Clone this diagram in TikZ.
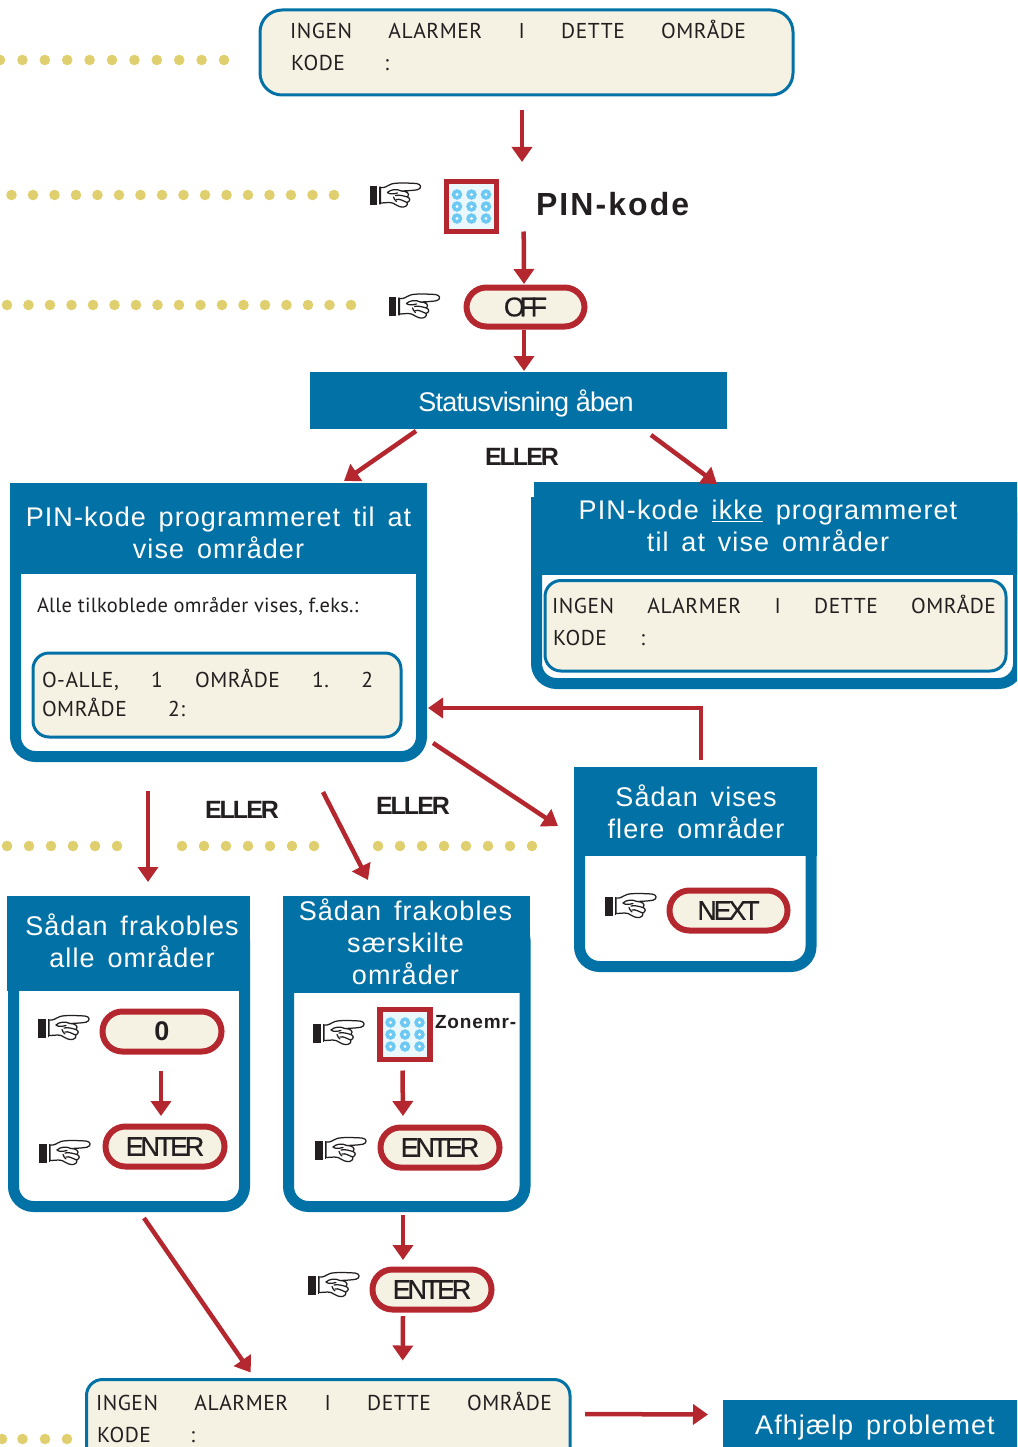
\documentclass[tikz,border=0pt]{standalone}
\usepackage{fontspec}
\usetikzlibrary{arrows.meta,calc}
\setmainfont{Liberation Sans}
\newfontfamily\lcdf[LetterSpace=2.5]{PT Sans}
\newfontfamily\notef[LetterSpace=1.2]{PT Sans}
\newfontfamily\hdrf[LetterSpace=4,WordSpace=1.5]{Liberation Sans}
\newfontfamily\statf[LetterSpace=-3]{Liberation Sans}
\newfontfamily\tightf[LetterSpace=-12,FakeBold=0.5]{Liberation Sans}
\newfontfamily\offf[LetterSpace=-20,FakeBold=0.5]{Liberation Sans}
\newfontfamily\eller[LetterSpace=-8]{Liberation Sans}
\newfontfamily\pinf[LetterSpace=6.5]{Liberation Sans}
\newfontfamily\zonf[LetterSpace=4.5]{Liberation Sans}
\definecolor{bluebox}{HTML}{0271A6}
\definecolor{cream}{HTML}{F5F2E3}
\definecolor{redc}{HTML}{B5272E}
\definecolor{goldc}{HTML}{E0CF6E}
\definecolor{keyc}{HTML}{6CC9F4}
\definecolor{keybg}{HTML}{EAF7FD}
\definecolor{inkc}{HTML}{231F20}
\newcommand{\bxn}[7]{\node[#1,minimum width={(#5-#3)*1pt},minimum height={(#6-#4)*1pt}] (#2) at ({(#3+#5)/2},{(#4+#6)/2}) {#7};}
\newcommand{\lcdl}[5]{\node[lcdtext] (#1) at (#2,{#3+7.5}) {\makebox[#4pt][s]{#5}};}
\newcommand{\hnd}[2]{\begin{scope}[shift={(#1,#2)},line width=1.25pt,line join=round,line cap=round,draw=inkc]
 \fill[inkc] (0,3.5) rectangle (7.5,22.5);
 \draw[line width=1.1pt] (10.5,4.5) -- (10.5,21.5);
 \draw[fill=white] (11,5) .. controls (15,6) and (18,3) .. (22,1.5)
   .. controls (27,0) and (38,0.5) .. (47,1) .. controls (52,1.5) and (52.5,6) .. (48,7.2)
   .. controls (44,8) and (37,8.3) .. (32,8.5)
   .. controls (37,8.5) and (41,11) .. (38,14.5)
   .. controls (41,15.5) and (41,19) .. (37.5,20)
   .. controls (39,22.5) and (36,25) .. (32,24.5)
   .. controls (28,24) and (26,21.5) .. (23,20.5)
   .. controls (19,19.5) and (15,20.5) .. (11,20.5) -- cycle;
 \draw (18,10) .. controls (21,7) and (27,6) .. (32,8.5);
 \draw (18,10) .. controls (20,12) and (24,11.5) .. (28,10.5);
 \draw (26,13) .. controls (30,12) and (34,13.5) .. (38,14.5);
 \draw (27,17) .. controls (30,16) and (34,18.5) .. (37.5,20);
 \draw (24,14.5) .. controls (25,16) and (25,18) .. (27,19);
\end{scope}}
\newcommand{\keyp}[3]{\bxn{keybox}{#1}{(#2-25)}{(#3-25)}{(#2+25)}{(#3+25)}{}
 \foreach \i in {-1,0,1}{\foreach \j in {-1,0,1}{
  \fill[keyc] ({#2+\i*14.5},{#3+\j*12}) circle[radius=5.3];
  \fill[white] ({#2+\i*14.5},{#3+\j*12}) circle[radius=1.7];}}}
\tikzset{
 every node/.style={inner sep=0pt,outer sep=0pt,text=inkc},
 lcdbox/.style={draw=bluebox,fill=cream,line width=3pt,rounded corners=16pt},
 lcdtext/.style={anchor=base west,font=\lcdf\fontsize{21.5}{24}\selectfont},
 panelbox/.style={draw=bluebox,fill=white,line width=11pt,rounded corners=20pt},
 hdrbox/.style={fill=bluebox},
 hdrtext/.style={text=white,align=center,font=\hdrf\fontsize{27}{32}\selectfont},
 pill/.style={draw=redc,fill=cream,line width=6pt,rounded corners=19.9pt,font=\tightf\fontsize{27}{30}\selectfont},
 keybox/.style={draw=redc,fill=keybg,line width=5.5pt},
 conn/.style={draw=redc,line width=4.5pt,-{Triangle[length=15pt,width=20pt]}},
 elabel/.style={font=\eller\bfseries\fontsize{25}{30}\selectfont},
 dotm/.style={fill=goldc},
}
\begin{document}
\begin{tikzpicture}[x=1pt,y=-1pt]
\useasboundingbox (0,0) rectangle (1017,1447);
\clip (0,0) rectangle (1017,1447);
% dotted rows
\foreach \x in {0,22.4,...,225}{\fill[dotm] (\x,60) circle[radius=5.3];}
\foreach \x in {11.5,33,...,340}{\fill[dotm] (\x,195) circle[radius=5.3];}
\foreach \x in {7,28.5,...,353}{\fill[dotm] (\x,305) circle[radius=5.3];}
\foreach \x in {7,29,...,118}{\fill[dotm] (\x,846) circle[radius=5.3];}
\foreach \x in {182,204,...,315}{\fill[dotm] (\x,846) circle[radius=5.3];}
\foreach \x in {378,400,...,533}{\fill[dotm] (\x,846) circle[radius=5.3];}
\foreach \x in {2,22.5,45,67}{\fill[dotm] (\x,1439) circle[radius=5.3];}
% top lcd
\bxn{lcdbox,rounded corners=22pt}{lcda}{260}{10}{793}{95}{}
\lcdl{lcda1}{290}{31}{456}{INGEN\hfill ALARMER\hfill I\hfill DETTE\hfill OMRÅDE}
\lcdl{lcda2}{291}{63}{98}{KODE\hfill :}
% pin row
\hnd{369.5}{182.5}
\keyp{kpa}{471.5}{206.5}
\node[anchor=west,font=\pinf\bfseries\fontsize{32}{36}\selectfont] (pinl) at (536,204) {PIN-kode};
\hnd{388.5}{293.5}
\bxn{pill,font=\offf\fontsize{27}{30}\selectfont}{off}{466.5}{287.5}{584.5}{326.5}{OFF}
% status
\bxn{hdrbox}{stat}{310}{372}{727}{429}{}
\node[text=white,font=\statf\fontsize{27}{30}\selectfont] (statt) at (526,403) {Statusvisning åben};
\node[elabel] (el1) at (522,457) {ELLER};
% panel 1
\bxn{panelbox}{pa}{15.5}{500}{421.5}{756.5}{}
\bxn{hdrbox}{pah}{10}{483}{427}{574}{}
\node[hdrtext] (pat) at (218.5,533) {PIN-kode programmeret til at\\vise områder};
\node[anchor=west,font=\notef\fontsize{20.5}{24}\selectfont] (pan) at (37,606) {Alle tilkoblede områder vises, f.eks.:};
\bxn{lcdbox}{lcdc}{33}{653}{401}{737}{}
\lcdl{lcdc1}{42}{680}{331}{O-ALLE,\hfill 1\hfill OMRÅDE\hfill 1.\hfill 2}
\lcdl{lcdc2}{42}{709}{143}{OMRÅDE\hfill 2:}
% panel 2
\bxn{panelbox}{pb}{536.5}{510}{1018.5}{683.5}{}
\bxn{hdrbox}{pbh}{534}{482}{1040}{530}{}
\bxn{hdrbox}{pbi}{531}{497}{1040}{575}{}
\node[hdrtext] (pbt) at (768,526) {PIN-kode \underline{ikke} programmeret\\til at vise områder};
\bxn{lcdbox}{lcdb}{545}{580.5}{1006}{671}{}
\lcdl{lcdb1}{552}{606}{444}{INGEN\hfill ALARMER\hfill I\hfill DETTE\hfill OMRÅDE}
\lcdl{lcdb2}{553}{638}{92}{KODE\hfill :}
% panel 3
\bxn{panelbox}{pc}{579.5}{790}{811}{966.5}{}
\bxn{hdrbox}{pch}{574}{767}{817}{856}{}
\node[hdrtext] (pct) at (696,812) {Sådan vises\\flere områder};
\hnd{605}{893}
\bxn{pill}{nxt}{669.5}{890.5}{787.5}{930.5}{NEXT}
% panel 4
\bxn{panelbox}{pd}{13.5}{920}{244.5}{1206.5}{}
\bxn{hdrbox}{pdh}{7}{896}{250}{991}{}
\node[hdrtext] (pdt) at (132,941) {Sådan frakobles\\alle områder};
\hnd{38}{1015}
\bxn{pill,font=\bfseries\fontsize{27}{30}\selectfont}{zero}{102.5}{1011.5}{221.5}{1051.5}{0}
\hnd{39}{1140}
\bxn{pill}{ena}{105.5}{1126.5}{224.5}{1166.5}{ENTER}
% panel 5
\bxn{panelbox}{pe}{288.5}{920}{525}{1206.5}{}
\bxn{hdrbox}{peh}{283}{896}{530}{993}{}
\node[hdrtext] (pet) at (405.5,942) {Sådan frakobles\\særskilte\\områder};
\hnd{313}{1020}
\keyp{kpb}{405}{1034.5}
\node[anchor=west,font=\zonf\bfseries\fontsize{19}{24}\selectfont] (zon) at (435,1022) {Zonemr-};
\hnd{315}{1137}
\bxn{pill}{enb}{380.5}{1127.5}{499.5}{1167.5}{ENTER}
\hnd{308}{1272}
\bxn{pill}{enc}{372.5}{1269.5}{491.5}{1309.5}{ENTER}
% bottom
\bxn{lcdbox}{lcdd}{86.5}{1379.5}{570}{1470}{}
\lcdl{lcdd1}{96}{1403}{456}{INGEN\hfill ALARMER\hfill I\hfill DETTE\hfill OMRÅDE}
\lcdl{lcdd2}{97}{1435}{98}{KODE\hfill :}
\bxn{hdrbox}{afh}{723}{1400}{1040}{1470}{}
\node[hdrtext] (aft) at (875,1428) {Afhjælp problemet};
\node[elabel] (el2) at (242,810) {ELLER};
\node[elabel] (el3) at (413,806) {ELLER};
% connectors
\draw[conn] ([xshift=-4.5pt,yshift=-15pt]lcda.south) -- ([xshift=50.5pt,yshift=19.5pt]kpa.north);
\draw[conn] ([xshift=52.2pt,yshift=0pt]kpa.south) -- ([xshift=-1.5pt,yshift=3.5pt]off.north);
\draw[conn] ([xshift=-1.5pt,yshift=-3.5pt]off.south) -- ([xshift=5.5pt,yshift=1pt]stat.north);
\draw[conn] ([xshift=-102.5pt,yshift=-2pt]stat.south) -- ([xshift=125.5pt,yshift=2pt]pah.north);
\draw[conn] ([xshift=132.5pt,yshift=-6pt]stat.south) -- ([xshift=-70pt,yshift=-2pt]pbh.north);
\draw[conn] ([xshift=-70.5pt,yshift=-34.5pt]pa.south) -- ([xshift=19.5pt,yshift=14pt]pdh.north);
\draw[conn] ([xshift=104.5pt,yshift=-35.5pt]pa.south) -- ([xshift=-38.5pt,yshift=16pt]peh.north);
\draw[conn] ([xshift=11.5pt,yshift=13.5pt]pa.south east) -- ([xshift=-16pt,yshift=-14.5pt]pch.west);
\draw[conn] ([xshift=5.5pt,yshift=7pt]pch.north) |- ([xshift=6.5pt,yshift=48.5pt]pa.south east);
\draw[conn] ([xshift=-1pt,yshift=-19.5pt]zero.south) -- ([xshift=-4pt,yshift=10.5pt]ena.north);
\draw[conn] ([xshift=-2.5pt,yshift=-11pt]kpb.south) -- ([xshift=-37pt,yshift=11.5pt]enb.north);
\draw[conn] ([xshift=-3.75pt,yshift=-8.5pt]pe.south) -- ([xshift=-29pt,yshift=9.5pt]enc.north);
\draw[conn] ([xshift=-29pt,yshift=-6.5pt]enc.south) -- ([xshift=74.5pt,yshift=19pt]lcdd.north);
\draw[conn] ([xshift=15pt,yshift=-11.5pt]pd.south) -- ([xshift=-77.5pt,yshift=7pt]lcdd.north);
\draw[conn] ([xshift=15pt,yshift=10.75pt]lcdd.east) -- ([xshift=-15pt,yshift=20.5pt]afh.west);
\end{tikzpicture}
\end{document}
